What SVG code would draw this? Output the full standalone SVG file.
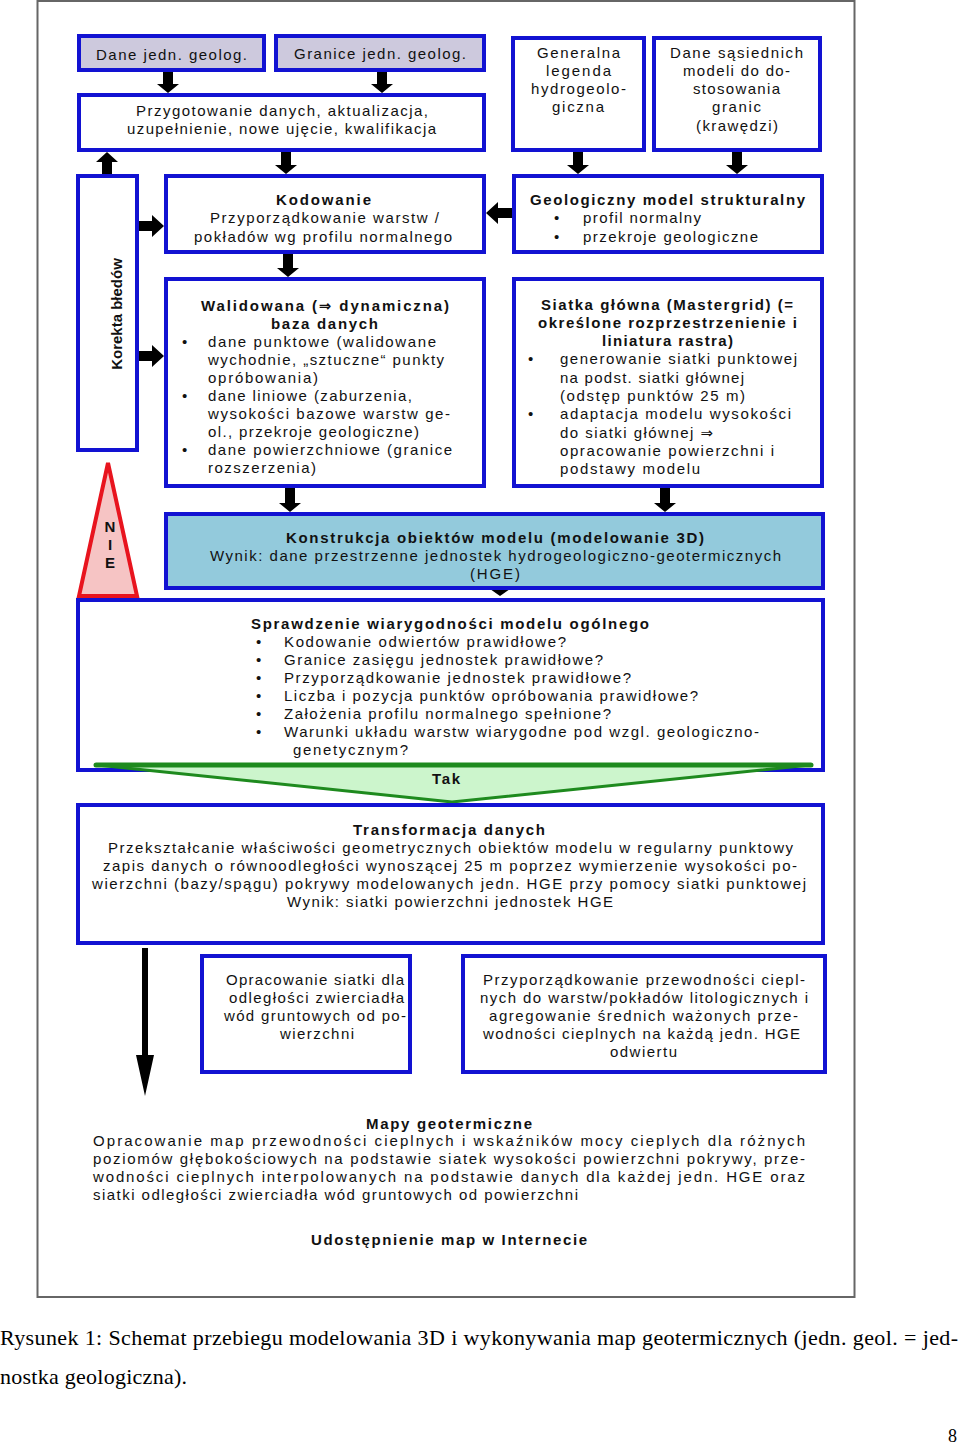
<svg xmlns="http://www.w3.org/2000/svg" width="960" height="1444" viewBox="0 0 960 1444">
<style>
.t{font-family:"Liberation Sans",Arial,sans-serif;font-size:15px;fill:#111}
.b{font-weight:bold}
.ar{font-family:"DejaVu Sans",sans-serif;font-size:15px}
.box{stroke:#1212d2;stroke-width:4;fill:#fff}
.lav{fill:#cdc9dd}
.blu{fill:#93cadc}
.arr{fill:#000}
.cap{font-family:"Liberation Serif","Times New Roman",serif;font-size:22px;fill:#000}
</style>
<rect x="0" y="0" width="960" height="1444" fill="#fff"/>
<rect x="37.5" y="1" width="817" height="1296" fill="none" stroke="#666" stroke-width="2"/>

<g id="connectors">
<polygon class="arr" points="163,71 173,71 173,84 179,84 168,93 157,84 163,84"/>
<polygon class="arr" points="377,71 387,71 387,84 393,84 382,93 371,84 377,84"/>
<polygon class="arr" points="281,151 291,151 291,165 297,165 286,174 275,165 281,165"/>
<polygon class="arr" points="102,176 112,176 112,162 118,162 107,152 96,162 102,162"/>
<polygon class="arr" points="573,151 583,151 583,165 589,165 578,174 567,165 573,165"/>
<polygon class="arr" points="732,151 742,151 742,165 748,165 737,174 726,165 732,165"/>
<polygon class="arr" points="138,221 152,221 152,215 164,226 152,237 152,231 138,231"/>
<polygon class="arr" points="138,351 152,351 152,345 164,356 152,367 152,361 138,361"/>
<polygon class="arr" points="512,208 498,208 498,202 486,213 498,224 498,218 512,218"/>
<polygon class="arr" points="283,253 293,253 293,268 299,268 288,277 277,268 283,268"/>
<polygon class="arr" points="285,487 295,487 295,503 301,503 290,512 279,503 285,503"/>
<polygon class="arr" points="660,487 670,487 670,503 676,503 665,512 654,503 660,503"/>
<polygon class="arr" points="490,589 510,589 500,596"/>
<polygon class="arr" points="142,948 148,948 148,1055 154,1055 145,1096 136,1055 142,1055"/>
</g>

<g id="n-dane">
<rect class="box lav" x="79" y="36" width="185" height="34"/>
<text class="t" x="96" y="60" textLength="151" lengthAdjust="spacing">Dane jedn. geolog.</text>
</g>
<g id="n-granice">
<rect class="box lav" x="276" y="36" width="208" height="34"/>
<text class="t" x="294" y="59" textLength="172" lengthAdjust="spacing">Granice jedn. geolog.</text>
</g>
<g id="n-przygotowanie">
<rect class="box" x="79" y="95" width="405" height="55"/>
<text class="t" x="136" y="116" textLength="292" lengthAdjust="spacing">Przygotowanie danych, aktualizacja,</text>
<text class="t" x="127" y="134" textLength="309" lengthAdjust="spacing">uzupełnienie, nowe ujęcie, kwalifikacja</text>
</g>
<g id="n-legenda">
<rect class="box" x="513" y="38" width="131" height="112"/>
<text class="t" x="537" y="58" textLength="83" lengthAdjust="spacing">Generalna</text>
<text class="t" x="546" y="76" textLength="65" lengthAdjust="spacing">legenda</text>
<text class="t" x="531" y="94" textLength="95" lengthAdjust="spacing">hydrogeolo-</text>
<text class="t" x="552" y="112" textLength="52" lengthAdjust="spacing">giczna</text>
</g>
<g id="n-sasiednie">
<rect class="box" x="654" y="38" width="166" height="112"/>
<text class="t" x="670" y="58" textLength="133" lengthAdjust="spacing">Dane sąsiednich</text>
<text class="t" x="683" y="76" textLength="107" lengthAdjust="spacing">modeli do do-</text>
<text class="t" x="693" y="94" textLength="87" lengthAdjust="spacing">stosowania</text>
<text class="t" x="712" y="112" textLength="49" lengthAdjust="spacing">granic</text>
<text class="t" x="696" y="131" textLength="82" lengthAdjust="spacing">(krawędzi)</text>
</g>
<g id="n-korekta">
<rect class="box" x="78" y="176" width="59" height="274"/>
<text class="t b" transform="translate(122,314) rotate(-90)" text-anchor="middle">Korekta błedów</text>
</g>
<g id="n-kodowanie">
<rect class="box" x="166" y="176" width="318" height="76"/>
<text class="t b" x="276" y="205" textLength="95" lengthAdjust="spacing">Kodowanie</text>
<text class="t" x="210" y="223" textLength="229" lengthAdjust="spacing">Przyporządkowanie warstw /</text>
<text class="t" x="194" y="242" textLength="258" lengthAdjust="spacing">pokładów wg profilu normalnego</text>
</g>
<g id="n-geologiczny">
<rect class="box" x="514" y="176" width="308" height="76"/>
<text class="t b" x="530" y="205" textLength="275" lengthAdjust="spacing">Geologiczny model strukturalny</text>
<text class="t" x="554" y="223">•</text>
<text class="t" x="583" y="223" textLength="118" lengthAdjust="spacing">profil normalny</text>
<text class="t" x="554" y="242">•</text>
<text class="t" x="583" y="242" textLength="175" lengthAdjust="spacing">przekroje geologiczne</text>
</g>
<g id="n-walidowana">
<rect class="box" x="166" y="279" width="318" height="207"/>
<text class="t b" x="201" y="311" textLength="248" lengthAdjust="spacing">Walidowana (<tspan class="ar">⇒</tspan> dynamiczna)</text>
<text class="t b" x="271" y="329" textLength="107" lengthAdjust="spacing">baza danych</text>
<text class="t" x="182" y="347">•</text>
<text class="t" x="208" y="347" textLength="228" lengthAdjust="spacing">dane punktowe (walidowane</text>
<text class="t" x="208" y="365" textLength="236" lengthAdjust="spacing">wychodnie, „sztuczne“ punkty</text>
<text class="t" x="208" y="383" textLength="110" lengthAdjust="spacing">opróbowania)</text>
<text class="t" x="182" y="401">•</text>
<text class="t" x="208" y="401" textLength="204" lengthAdjust="spacing">dane liniowe (zaburzenia,</text>
<text class="t" x="208" y="419" textLength="242" lengthAdjust="spacing">wysokości bazowe warstw ge-</text>
<text class="t" x="208" y="437" textLength="211" lengthAdjust="spacing">ol., przekroje geologiczne)</text>
<text class="t" x="182" y="455">•</text>
<text class="t" x="208" y="455" textLength="244" lengthAdjust="spacing">dane powierzchniowe (granice</text>
<text class="t" x="208" y="473" textLength="108" lengthAdjust="spacing">rozszerzenia)</text>
</g>
<g id="n-siatka">
<rect class="box" x="514" y="279" width="308" height="207"/>
<text class="t b" x="541" y="310" textLength="252" lengthAdjust="spacing">Siatka główna (Mastergrid) (=</text>
<text class="t b" x="538" y="328" textLength="259" lengthAdjust="spacing">określone rozprzestrzenienie i</text>
<text class="t b" x="602" y="346" textLength="131" lengthAdjust="spacing">liniatura rastra)</text>
<text class="t" x="528" y="364">•</text>
<text class="t" x="560" y="364" textLength="237" lengthAdjust="spacing">generowanie siatki punktowej</text>
<text class="t" x="560" y="383" textLength="184" lengthAdjust="spacing">na podst. siatki głównej</text>
<text class="t" x="560" y="401" textLength="185" lengthAdjust="spacing">(odstęp punktów 25 m)</text>
<text class="t" x="528" y="419">•</text>
<text class="t" x="560" y="419" textLength="231" lengthAdjust="spacing">adaptacja modelu wysokości</text>
<text class="t" x="560" y="438" textLength="153" lengthAdjust="spacing">do siatki głównej <tspan class="ar">⇒</tspan></text>
<text class="t" x="560" y="456" textLength="214" lengthAdjust="spacing">opracowanie powierzchni i</text>
<text class="t" x="560" y="474" textLength="140" lengthAdjust="spacing">podstawy modelu</text>
</g>
<g id="n-nie">
<polygon points="108,463 137,596 79,596" fill="#f6c4c4" stroke="#e8141e" stroke-width="4" stroke-linejoin="miter"/>
<text class="t b" x="110" y="532" text-anchor="middle">N</text>
<text class="t b" x="110" y="550" text-anchor="middle">I</text>
<text class="t b" x="110" y="568" text-anchor="middle">E</text>
</g>
<g id="n-konstrukcja">
<rect class="box blu" x="166" y="514" width="657" height="74"/>
<text class="t b" x="286" y="543" textLength="418" lengthAdjust="spacing">Konstrukcja obiektów modelu (modelowanie 3D)</text>
<text class="t" x="210" y="561" textLength="571" lengthAdjust="spacing">Wynik: dane przestrzenne jednostek hydrogeologiczno-geotermicznych</text>
<text class="t" x="470" y="579" textLength="50" lengthAdjust="spacing">(HGE)</text>
</g>
<g id="n-sprawdzenie">
<rect class="box" x="78" y="600" width="745" height="170"/>
<text class="t b" x="251" y="629" textLength="398" lengthAdjust="spacing">Sprawdzenie wiarygodności modelu ogólnego</text>
<text class="t" x="256" y="647">•</text>
<text class="t" x="284" y="647" textLength="282" lengthAdjust="spacing">Kodowanie odwiertów prawidłowe?</text>
<text class="t" x="256" y="665">•</text>
<text class="t" x="284" y="665" textLength="319" lengthAdjust="spacing">Granice zasięgu jednostek prawidłowe?</text>
<text class="t" x="256" y="683">•</text>
<text class="t" x="284" y="683" textLength="347" lengthAdjust="spacing">Przyporządkowanie jednostek prawidłowe?</text>
<text class="t" x="256" y="701">•</text>
<text class="t" x="284" y="701" textLength="414" lengthAdjust="spacing">Liczba i pozycja punktów opróbowania prawidłowe?</text>
<text class="t" x="256" y="719">•</text>
<text class="t" x="284" y="719" textLength="327" lengthAdjust="spacing">Założenia profilu normalnego spełnione?</text>
<text class="t" x="256" y="737">•</text>
<text class="t" x="284" y="737" textLength="475" lengthAdjust="spacing">Warunki układu warstw wiarygodne pod wzgl. geologiczno-</text>
<text class="t" x="293" y="755" textLength="115" lengthAdjust="spacing">genetycznym?</text>
</g>
<g id="n-tak">
<polygon points="97,765 810,765 452,802" fill="#ccf5cc" stroke="#1e8a1e" stroke-width="3" stroke-linejoin="round"/>
<line x1="96" y1="765" x2="811" y2="765" stroke="#1e8a1e" stroke-width="5" stroke-linecap="round"/>
<text class="t b" x="432" y="784" textLength="28" lengthAdjust="spacing">Tak</text>
</g>
<g id="n-transformacja">
<rect class="box" x="78" y="805" width="745" height="138"/>
<text class="t b" x="353" y="835" textLength="192" lengthAdjust="spacing">Transformacja danych</text>
<text class="t" x="108" y="853" textLength="685" lengthAdjust="spacing">Przekształcanie właściwości geometrycznych obiektów modelu w regularny punktowy</text>
<text class="t" x="103" y="871" textLength="694" lengthAdjust="spacing">zapis danych o równoodległości wynoszącej 25 m poprzez wymierzenie wysokości po-</text>
<text class="t" x="92" y="889" textLength="714" lengthAdjust="spacing">wierzchni (bazy/spągu) pokrywy modelowanych jedn. HGE przy pomocy siatki punktowej</text>
<text class="t" x="287" y="907" textLength="326" lengthAdjust="spacing">Wynik: siatki powierzchni jednostek HGE</text>
</g>
<g id="n-opracowanie">
<rect class="box" x="202" y="956" width="208" height="116"/>
<text class="t" x="226" y="985" textLength="178" lengthAdjust="spacing">Opracowanie siatki dla</text>
<text class="t" x="229" y="1003" textLength="175" lengthAdjust="spacing">odległości zwierciadła</text>
<text class="t" x="224" y="1021" textLength="182" lengthAdjust="spacing">wód gruntowych od po-</text>
<text class="t" x="280" y="1039" textLength="74" lengthAdjust="spacing">wierzchni</text>
</g>
<g id="n-przewodnosc">
<rect class="box" x="463" y="956" width="362" height="116"/>
<text class="t" x="483" y="985" textLength="322" lengthAdjust="spacing">Przyporządkowanie przewodności ciepl-</text>
<text class="t" x="480" y="1003" textLength="328" lengthAdjust="spacing">nych do warstw/pokładów litologicznych i</text>
<text class="t" x="489" y="1021" textLength="309" lengthAdjust="spacing">agregowanie średnich ważonych prze-</text>
<text class="t" x="483" y="1039" textLength="317" lengthAdjust="spacing">wodności cieplnych na każdą jedn. HGE</text>
<text class="t" x="610" y="1057" textLength="67" lengthAdjust="spacing">odwiertu</text>
</g>
<g id="n-mapy">
<text class="t b" x="366" y="1129" textLength="166" lengthAdjust="spacing">Mapy geotermiczne</text>
<text class="t" x="93" y="1146" textLength="712" lengthAdjust="spacing">Opracowanie map przewodności cieplnych i wskaźników mocy cieplych dla różnych</text>
<text class="t" x="93" y="1164" textLength="712" lengthAdjust="spacing">poziomów głębokościowych na podstawie siatek wysokości powierzchni pokrywy,  prze-</text>
<text class="t" x="93" y="1182" textLength="712" lengthAdjust="spacing">wodności cieplnych interpolowanych na podstawie danych dla każdej jedn. HGE oraz</text>
<text class="t" x="93" y="1200" textLength="485" lengthAdjust="spacing">siatki odległości zwierciadła wód gruntowych od powierzchni</text>
</g>
<g id="n-udostepnienie">
<text class="t b" x="311" y="1245" textLength="276" lengthAdjust="spacing">Udostępnienie map w Internecie</text>
</g>
<g id="caption">
<text class="cap" x="0" y="1345" textLength="958" lengthAdjust="spacing">Rysunek 1: Schemat przebiegu modelowania 3D i wykonywania map geotermicznych (jedn. geol. = jed-</text>
<text class="cap" x="0" y="1384" textLength="187" lengthAdjust="spacing">nostka geologiczna).</text>
<text class="cap" x="948" y="1442" style="font-size:18px">8</text>
</g>
</svg>
